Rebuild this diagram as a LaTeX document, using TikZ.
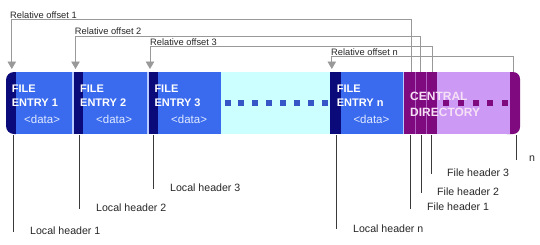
\documentclass[tikz,border=0pt]{standalone}
\usepackage{fontspec}
\setmainfont{Liberation Sans}
\usetikzlibrary{arrows.meta}
\definecolor{navy}{HTML}{0A0A7A}
\definecolor{eblue}{HTML}{3A6AEE}
\definecolor{ecyan}{HTML}{CCFFFF}
\definecolor{cdpurple}{HTML}{7F0A80}
\definecolor{cdsep}{HTML}{B060C0}
\definecolor{lav}{HTML}{CC99F5}
\definecolor{sepc}{HTML}{B8CCFF}
\definecolor{topgray}{HTML}{999999}
\definecolor{botgray}{HTML}{3A3A3A}
\definecolor{dotblue}{HTML}{3656C8}
\definecolor{cdtext}{HTML}{F6E0F6}
\definecolor{datatext}{HTML}{E0EAFF}
\tikzset{
  seg/.style={inner sep=0pt, outer sep=0pt, draw=none, minimum height=62pt, anchor=north west},
  entrytxt/.style={inner sep=0pt, anchor=base west, text=white, align=left,
     font=\fontsize{11}{14}\selectfont\bfseries},
  datatxt/.style={inner sep=0pt, anchor=base west, text=datatext, font=\fontsize{11.5}{14}\selectfont},
  cdtxt/.style={inner sep=0pt, anchor=base west, text=cdtext, align=left,
     font=\fontsize{12}{16.7}\selectfont\bfseries},
  toplbl/.style={inner sep=0pt, anchor=base west, text=black!85, font=\fontsize{9.3}{11}\selectfont},
  botlbl/.style={inner sep=0pt, anchor=base west, text=black!85, font=\fontsize{10.6}{12}\selectfont},
  topline/.style={draw=topgray, line width=0.9pt},
  toparrow/.style={topline, -{Triangle[width=8.5pt,length=7.5pt]}},
  botline/.style={draw=botgray, line width=0.9pt},
  sq/.style={inner sep=0pt, outer sep=0pt, minimum size=6pt, draw=none},
}
\begin{document}
\begin{tikzpicture}[x=1pt,y=-1pt]
\useasboundingbox (0,0) rectangle (540,244);
% rounded ends
\fill[navy, rounded corners=8pt] (6,72) rectangle (24,134);
\fill[cdpurple, rounded corners=7pt] (500,72) rectangle (520,134);
% segments
\node[seg, fill=eblue, minimum width=56pt] (e1) at (16,72) {};
\node[seg, fill=sepc, minimum width=2pt] (s1) at (72,72) {};
\node[seg, fill=navy, minimum width=9pt] (h2) at (74,72) {};
\node[seg, fill=eblue, minimum width=64pt] (e2) at (83,72) {};
\node[seg, fill=sepc, minimum width=1.5pt] (s2) at (147,72) {};
\node[seg, fill=navy, minimum width=9.5pt] (h3) at (148.5,72) {};
\node[seg, fill=eblue, minimum width=63pt] (e3) at (158,72) {};
\node[seg, fill=ecyan, minimum width=109pt] (cy) at (221,72) {};
\node[seg, fill=navy, minimum width=11pt] (hn) at (330,72) {};
\node[seg, fill=eblue, minimum width=61.5pt] (en) at (341,72) {};
\node[seg, fill=sepc, minimum width=1.5pt] (s3) at (402.5,72) {};
\node[seg, fill=cdpurple, minimum width=33pt] (cd) at (404,72) {};
\node[seg, fill=cdsep, minimum width=0.8pt] (s4) at (414.6,72) {};
\node[seg, fill=cdsep, minimum width=0.8pt] (s5) at (425.6,72) {};
\node[seg, fill=lav, minimum width=73pt] (lv) at (437,72) {};
% dots
\foreach \i in {0,...,7} {
  \node[sq, fill=dotblue] (dc\i) at (227.5+13.9*\i,102.6) {};
}
\foreach \i in {0,...,4} {
  \node[sq, fill=cdpurple] (dl\i) at (446+14.75*\i,102.6) {};
}
% texts in bar
\node[entrytxt] (t1) at (11.7,106.7) {FILE\\ENTRY 1};
\node[entrytxt] (t2) at (80,106.7) {FILE\\ENTRY 2};
\node[entrytxt] (t3) at (154.3,106.7) {FILE\\ENTRY 3};
\node[entrytxt] (tn) at (336.7,106.7) {FILE\\ENTRY n};
\node[datatxt] (d1) at (24,123.5) {<data>};
\node[datatxt] (d2) at (96,123.5) {<data>};
\node[datatxt] (d3) at (171,123.5) {<data>};
\node[datatxt] (dn) at (353.3,123.5) {<data>};
\node[cdtxt] (cdt) at (410,116.7) {CENTRAL\\DIRECTORY};
% top labels and arrows
\node[toplbl] (r1) at (10,18.3) {Relative offset 1};
\node[toplbl] (r2) at (74.7,34.9) {Relative offset 2};
\node[toplbl] (r3) at (150,45) {Relative offset 3};
\node[toplbl] (rn) at (331,55.2) {Relative offset n};
\coordinate (a1) at (11.8,19.6);  \coordinate (a1e) at (11.8,69);
\coordinate (b1) at (411.7,19.6); \coordinate (b1e) at (411.7,72);
\coordinate (a2) at (75.5,36.2);  \coordinate (a2e) at (75.5,69);
\coordinate (b2) at (420.8,36.2); \coordinate (b2e) at (420.8,72);
\coordinate (a3) at (150,46.2);   \coordinate (a3e) at (150,69);
\coordinate (b3) at (432.3,46.2); \coordinate (b3e) at (432.3,72);
\coordinate (an) at (331.8,56.8); \coordinate (ane) at (331.8,69);
\coordinate (bn) at (513.3,56.8); \coordinate (bne) at (513.3,72);
\draw[toparrow] (b1e) -- (b1) -- (a1) -- (a1e);
\draw[toparrow] (b2e) -- (b2) -- (a2) -- (a2e);
\draw[toparrow] (b3e) -- (b3) -- (a3) -- (a3e);
\draw[toparrow] (bne) -- (bn) -- (an) -- (ane);
% bottom labels and lines
\node[botlbl] (l1) at (30,234.3) {Local header 1};
\node[botlbl] (l2) at (96,211.7) {Local header 2};
\node[botlbl] (l3) at (170,191.7) {Local header 3};
\node[botlbl] (ln) at (353,232.7) {Local header n};
\node[botlbl] (f1) at (427,210) {File header 1};
\node[botlbl] (f2) at (437,195) {File header 2};
\node[botlbl] (f3) at (447,176.7) {File header 3};
\node[botlbl] (fn) at (529,161) {n};
\coordinate (p1) at (13,135);  \coordinate (q1) at (13,232);
\coordinate (p2) at (79.3,135);  \coordinate (q2) at (79.3,209);
\coordinate (p3) at (153.3,135); \coordinate (q3) at (153.3,189);
\coordinate (pn) at (336,135); \coordinate (qn) at (336,229);
\coordinate (pf1) at (410.7,135); \coordinate (qf1) at (410.7,209);
\coordinate (pf2) at (421,135); \coordinate (qf2) at (421,193);
\coordinate (pf3) at (431.7,135); \coordinate (qf3) at (431.7,174);
\coordinate (pfn) at (516.7,135); \coordinate (qfn) at (516.7,160);
\draw[botline] (p1) -- (q1);
\draw[botline] (p2) -- (q2);
\draw[botline] (p3) -- (q3);
\draw[botline] (pn) -- (qn);
\draw[botline] (pf1) -- (qf1);
\draw[botline] (pf2) -- (qf2);
\draw[botline] (pf3) -- (qf3);
\draw[botline] (pfn) -- (qfn);
\end{tikzpicture}
\end{document}
